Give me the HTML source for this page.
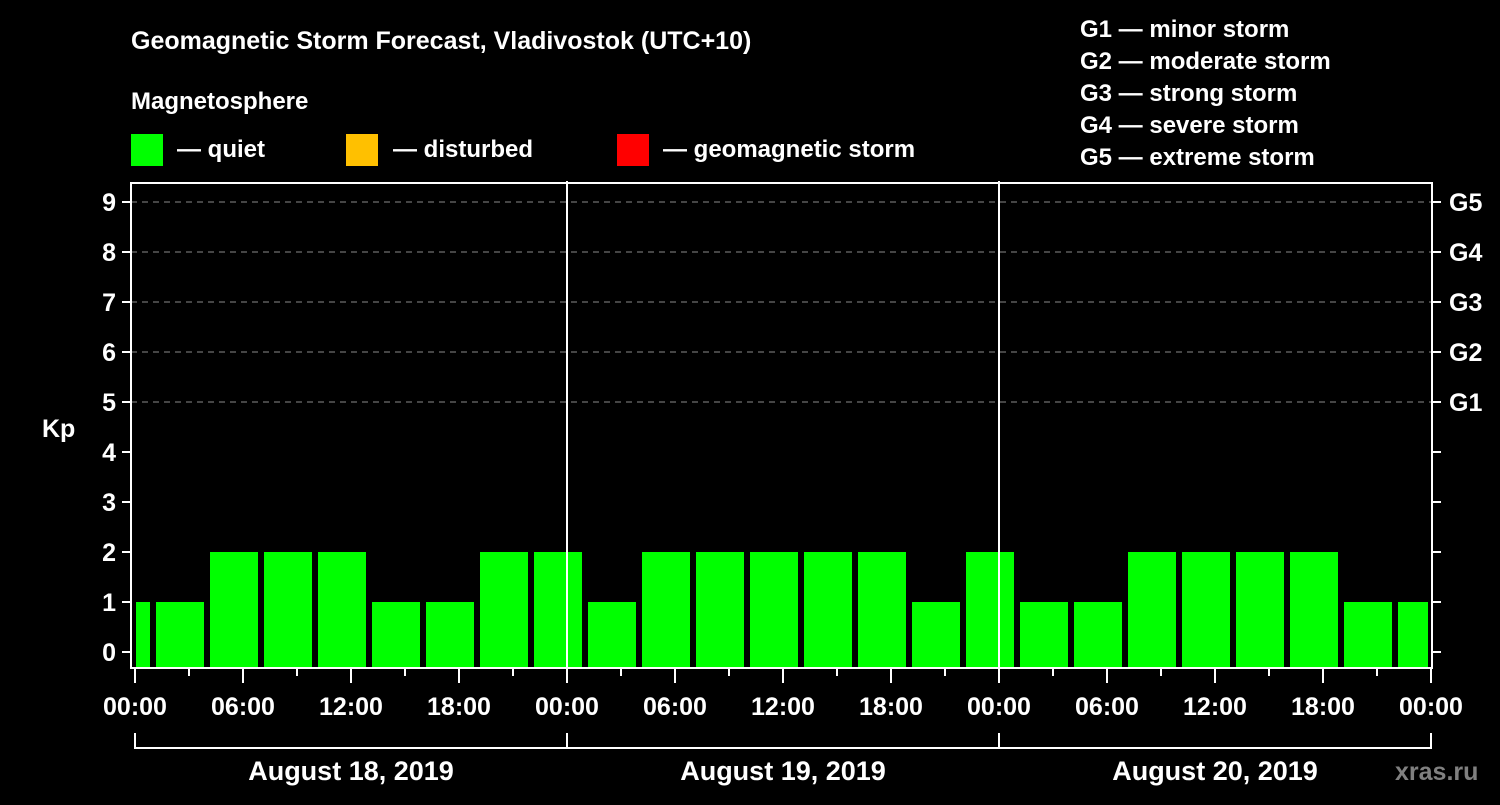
<!DOCTYPE html>
<html><head><meta charset="utf-8"><style>
body{margin:0;background:#000;width:1500px;height:800px;overflow:hidden}
svg text{font-family:"Liberation Sans",Arial,sans-serif;font-weight:bold;fill:#fff}
</style></head><body>
<svg id="chart" width="1500" height="800" viewBox="0 0 1500 800">
<rect width="1500" height="800" fill="#000"/>
<text x="131" y="49" font-size="25">Geomagnetic Storm Forecast, Vladivostok (UTC+10)</text>
<text x="131" y="109" font-size="24">Magnetosphere</text>
<rect x="131" y="134" width="32" height="32" fill="#00ff00"/>
<text x="177" y="157" font-size="24">— quiet</text>
<rect x="346" y="134" width="32" height="32" fill="#ffc000"/>
<text x="393" y="157" font-size="24">— disturbed</text>
<rect x="617" y="134" width="32" height="32" fill="#ff0000"/>
<text x="663" y="157" font-size="24">— geomagnetic storm</text>
<g font-size="24">
<text x="1080" y="37">G1 — minor storm</text>
<text x="1080" y="69">G2 — moderate storm</text>
<text x="1080" y="101">G3 — strong storm</text>
<text x="1080" y="133">G4 — severe storm</text>
<text x="1080" y="165">G5 — extreme storm</text>
</g>
<text x="42" y="437" font-size="25">Kp</text>
<text x="1395" y="780" font-size="25" style="fill:#808080">xras.ru</text>
<g id="grid"></g><g id="bars"></g><g id="axes"></g>
</svg>
<script>
const kpValues=[1,1,2,2,2,1,1,2,2,1,2,2,2,2,2,1,2,1,1,2,2,2,2,1,1];
const yTicks=[0,1,2,3,4,5,6,7,8,9];
const gLabels=["G1","G2","G3","G4","G5"];
const dayLabels=["August 18, 2019","August 19, 2019","August 20, 2019"];
const hourLabels=["00:00","06:00","12:00","18:00"];
const NS="http://www.w3.org/2000/svg";
const x0=135,pxH=18,yBase=652,pxK=50,plotL=131,plotR=1432,plotT=183,plotB=668;
const xs=h=>x0+h*pxH, ys=k=>yBase-k*pxK;
function mk(t,a,p){const e=document.createElementNS(NS,t);for(const k in a)e.setAttribute(k,a[k]);(p||document.getElementById('axes')).appendChild(e);return e;}
const grid=document.getElementById('grid'),bars=document.getElementById('bars');
for(let k=5;k<=9;k++){const l=mk('line',{x1:plotL,x2:plotR,y1:ys(k),y2:ys(k),stroke:'#8a8a8a','stroke-width':1,'stroke-dasharray':'6,5'},grid);

}
kpValues.forEach((v,i)=>{let s=xs(-2+3*i)+3,e=xs(1+3*i)-3;s=Math.max(s,136);e=Math.min(e,1428);
const c=v>=5?'#ff0000':(v>=4?'#ffc000':'#00ff00');
const r=mk('rect',{x:s,y:ys(v),width:e-s,height:plotB-ys(v),fill:c},bars);

});
mk('rect',{x:plotL,y:plotT,width:plotR-plotL,height:plotB-plotT,fill:'none',stroke:'#fff','stroke-width':2});
for(let d=1;d<3;d++)mk('line',{x1:xs(24*d),x2:xs(24*d),y1:181,y2:plotB,stroke:'#fff','stroke-width':2});
yTicks.forEach(k=>{mk('line',{x1:122,x2:plotL,y1:ys(k),y2:ys(k),stroke:'#fff','stroke-width':2});
mk('line',{x1:plotR,x2:1441,y1:ys(k),y2:ys(k),stroke:'#fff','stroke-width':2});
const t=mk('text',{x:116,y:ys(k)+9,'text-anchor':'end','font-size':25});t.textContent=k;

});
gLabels.forEach((g,i)=>{const t=mk('text',{x:1449,y:ys(5+i)+9,'font-size':25});t.textContent=g;

});
for(let h=0;h<=72;h+=3){const major=h%6===0;mk('line',{x1:xs(h),x2:xs(h),y1:plotB,y2:plotB+(major?15:8),stroke:'#fff','stroke-width':2});
if(major){const t=mk('text',{x:xs(h),y:plotB+47,'text-anchor':'middle','font-size':25});t.textContent=hourLabels[(h/6)%4];

}}
mk('polyline',{points:`${xs(0)},733 ${xs(0)},748 ${xs(72)},748 ${xs(72)},733`,fill:'none',stroke:'#fff','stroke-width':2});
dayLabels.forEach((d,i)=>{mk('line',{x1:xs(24*i),x2:xs(24*i),y1:733,y2:748,stroke:'#fff','stroke-width':2});
const t=mk('text',{x:xs(24*i+12),y:780,'text-anchor':'middle','font-size':27});t.textContent=d;

});
</script>
</body></html>
